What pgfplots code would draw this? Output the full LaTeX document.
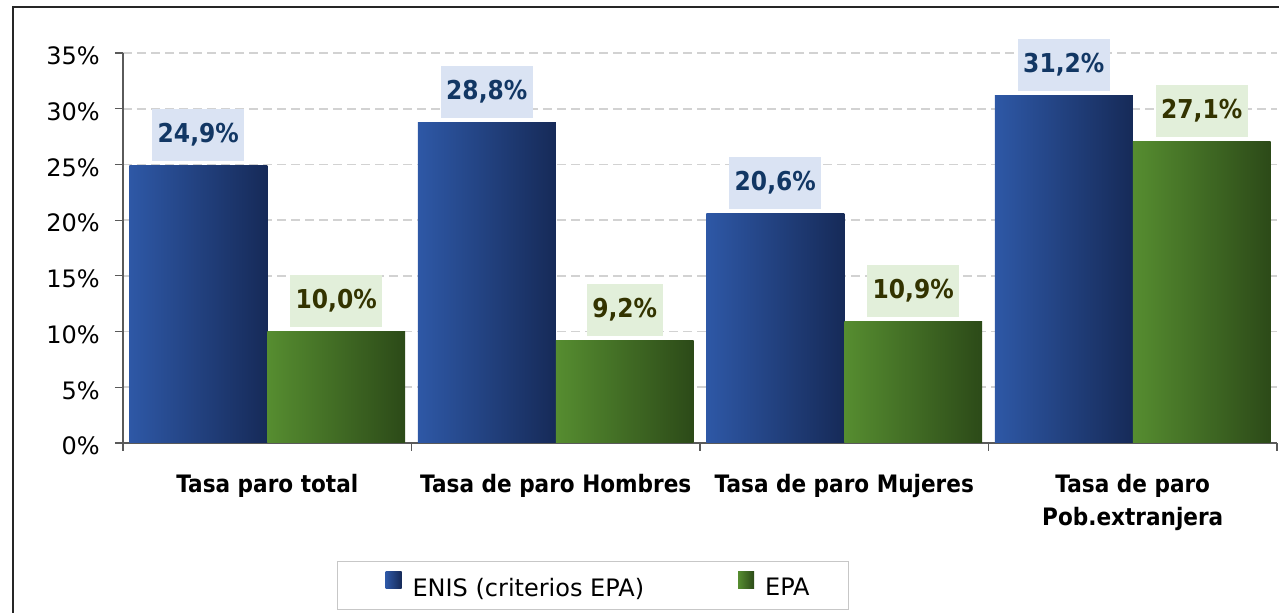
\documentclass[border=0pt]{standalone}
\usepackage{pgfplots}
\pgfplotsset{compat=1.18}
\usepackage{fontspec}
\setmainfont{DejaVu Sans}
\newfontfamily\condf{DejaVu Sans}[FakeStretch=0.9]
\definecolor{blueL}{RGB}{46,88,166}
\definecolor{blueR}{RGB}{22,42,88}
\definecolor{greenL}{RGB}{86,141,48}
\definecolor{greenR}{RGB}{44,74,24}
\definecolor{boxB}{RGB}{218,227,243}
\definecolor{boxG}{RGB}{226,239,218}
\definecolor{txtB}{RGB}{18,55,100}
\definecolor{txtG}{RGB}{51,51,0}
\definecolor{gridc}{RGB}{210,210,210}
\definecolor{axc}{RGB}{90,90,90}
\pgfplotsset{
  lab/.style={every node near coord/.style={anchor=south, yshift=2pt, fill=#1,
    font=\condf\bfseries\fontsize{13}{15}\selectfont, inner xsep=2.75pt, inner ysep=0pt, minimum height=26pt}},
  bblue/.style={ybar, bar width=0.478, bar shift=0pt, draw=none, left color=blueL, right color=blueR,
    lab=boxB, every node near coord/.append style={text=txtB}},
  bgreen/.style={ybar, bar width=0.478, bar shift=0pt, draw=none, left color=greenL, right color=greenR,
    lab=boxG, every node near coord/.append style={text=txtG}},
}
\begin{document}
\begin{tikzpicture}[x=0.5pt,y=0.5pt]
\path[use as bounding box] (0,0) rectangle (1279,613);
\draw[line width=1pt, black!85] (13,-5) -- (13,606) -- (1290,606);
\begin{axis}[
  at={(61.5pt,85pt)}, anchor=south west,
  scale only axis, width=577pt, height=195pt,
  xmin=-0.5, xmax=3.5, ymin=0, ymax=35,
  axis x line*=bottom, axis y line*=left,
  axis line style={draw=axc, line width=0.6pt},
  ytick={0,5,...,35},
  yticklabels={0\%,5\%,10\%,15\%,20\%,25\%,30\%,35\%},
  yticklabel style={font=\fontsize{12}{14}\selectfont, inner sep=0pt, anchor=east, xshift=-7.5pt, yshift=-1.5pt},
  tick align=outside, major tick length=4pt, minor tick length=4pt,
  tick style={draw=axc, line width=0.6pt},
  major x tick style={draw=none},
  xtick={0,1,2,3},
  minor xtick={-0.5,0.5,1.5,2.5,3.5},
  xticklabels={Tasa paro total, Tasa de paro Hombres, Tasa de paro Mujeres, {Tasa de paro\\Pob.extranjera}},
  xticklabel style={font=\condf\bfseries\fontsize{12}{16.5}\selectfont, align=center, anchor=north, inner sep=0pt, yshift=-11.5pt},
  ymajorgrids, grid style={draw=gridc, line width=0.8pt, dash pattern=on 4.5pt off 2.5pt},
  legend columns=2,
  legend style={at={(0.1854,-0.3026)}, anchor=north west, draw=black!22, line width=0.6pt,
    font=\fontsize{12}{14}\selectfont, inner xsep=24pt, inner ysep=5pt,
    nodes={inner sep=0pt},
    /tikz/every odd column/.style={column sep=5.5pt},
    /tikz/every even column/.style={column sep=47pt}},
  legend image code/.code={\path[#1, draw=none] (0pt,0pt) rectangle (8pt,8.5pt);},
  nodes near coords={\pgfmathprintnumber[fixed,fixed zerofill,precision=1,use comma,assume math mode=true]{\pgfplotspointmeta}\%},
  point meta=y,
]
\addplot[bblue] coordinates {(-0.239,24.9)};
\addlegendentry{ENIS (criterios EPA)}
\addplot[bgreen] coordinates {(0.239,10.0)};
\addlegendentry{EPA\hspace*{-4.5pt}}
\addplot[bblue, forget plot] coordinates {(0.761,28.8)};
\addplot[bgreen, forget plot] coordinates {(1.239,9.2)};
\addplot[bblue, forget plot] coordinates {(1.761,20.6)};
\addplot[bgreen, forget plot] coordinates {(2.239,10.9)};
\addplot[bblue, forget plot] coordinates {(2.761,31.2)};
\addplot[bgreen, forget plot] coordinates {(3.239,27.1)};
\end{axis}
\end{tikzpicture}
\end{document}
